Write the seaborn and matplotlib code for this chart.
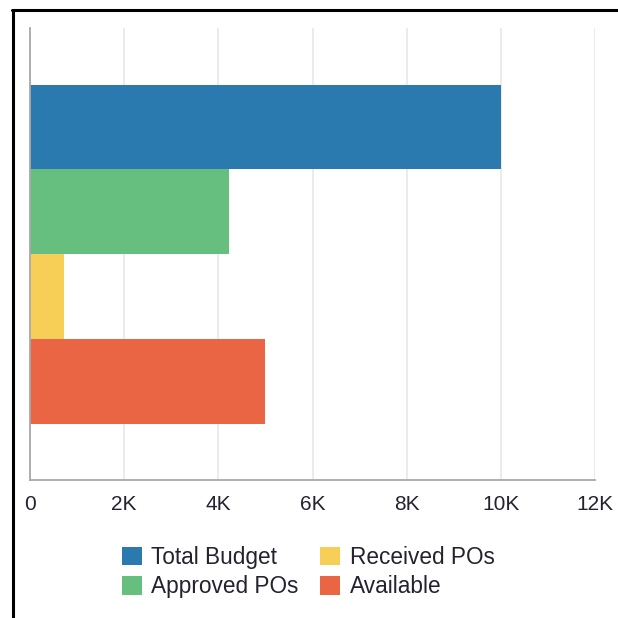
import matplotlib
matplotlib.use("Agg")
import matplotlib.pyplot as plt
from matplotlib.lines import Line2D
import seaborn as sns
import pandas as pd

# Budget breakdown
items = ["Total Budget", "Approved POs", "Received POs", "Available"]
amounts = [10000, 4230, 720, 5000]
colors = ["#2a7ab0", "#67bf7f", "#f8cf56", "#e96543"]
tick_values = [0, 2000, 4000, 6000, 8000, 10000, 12000]
tick_labels = ["0", "2K", "4K", "6K", "8K", "10K", "12K"]

sns.set_theme(style="white")
plt.rcParams["font.family"] = ["Liberation Sans", "DejaVu Sans"]

df = pd.DataFrame({"group": ["Budget"] * len(items), "item": items, "amount": amounts})

W = H = 618
fig = plt.figure(figsize=(W / 100, H / 100), dpi=100)
ax = fig.add_axes([30 / W, 1 - 480 / H, (595 - 30) / W, (480 - 28) / H])

sns.barplot(data=df, x="amount", y="group", hue="item", hue_order=items,
            palette=colors, orient="h", width=0.75, gap=0, linewidth=0,
            saturation=1, ax=ax, legend=True)

ax.set_xlim(0, 12000)
ax.set_xticks(tick_values)
ax.set_xticklabels(tick_labels)
ax.set_xlabel("")
ax.set_ylabel("")
ax.set_yticks([])
ax.tick_params(axis="x", length=0, pad=11, labelsize=15, labelcolor="#23232f")
ax.grid(axis="x", color="#e6e6e6", linewidth=1.1)
ax.set_axisbelow(True)
for side in ["top", "right"]:
    ax.spines[side].set_visible(False)
for side in ["left", "bottom"]:
    ax.spines[side].set_color("#a8a8a8")
    ax.spines[side].set_linewidth(1.3)

handles, labels = ax.get_legend_handles_labels()
ax.get_legend().remove()
fig.legend(handles, labels, ncol=2, loc="upper left",
           bbox_to_anchor=(122 / W, 1 - 546 / H), frameon=False,
           fontsize=16.3, handlelength=0.88, handleheight=0.85,
           handletextpad=0.42, columnspacing=0.95, labelspacing=0.28,
           borderpad=0, borderaxespad=0, labelcolor="#23232f")

# outer frame edges
fig.add_artist(Line2D([12 / W, 1], [1 - 10 / H, 1 - 10 / H], color="black",
                      linewidth=2.2, transform=fig.transFigure))
fig.add_artist(Line2D([12.5 / W, 12.5 / W], [0, 1 - 10 / H], color="black",
                      linewidth=2.2, transform=fig.transFigure))

fig.savefig("out.png", dpi=100)
